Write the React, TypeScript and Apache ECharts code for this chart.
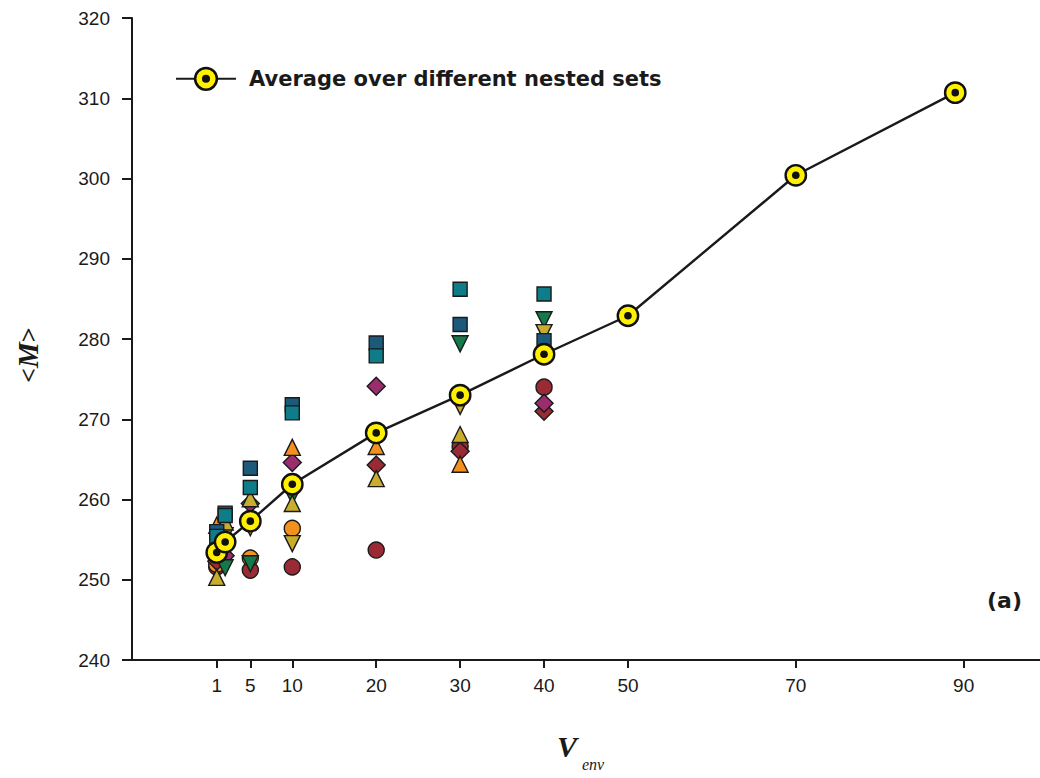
import React, { useEffect, useRef } from "react";
import * as echarts from "echarts";

// ---- Data ----
const xTicks = [1, 5, 10, 20, 30, 40, 50, 70, 90];
const avgX = [1, 2, 5, 10, 20, 30, 40, 50, 70, 89];
const avgY = [253.4, 254.7, 257.3, 261.9, 268.3, 273.0, 278.1, 282.9, 300.4, 310.7];
const avgName = "Average over different nested sets";

const sqTealX = [1, 2, 5, 10, 20, 30, 40];
const sqTealY = [255.4, 258.0, 261.5, 270.8, 277.9, 286.2, 285.6];
const sqBlueX = [1, 2, 5, 10, 20, 30, 40];
const sqBlueY = [256.0, 258.3, 263.9, 271.8, 279.5, 281.8, 279.8];
const triUpOrangeX = [1, 10, 20, 30, 40];
const triUpOrangeY = [256.8, 266.5, 266.6, 264.4, 279.3];
const triUpOliveX = [1, 2, 5, 10, 20, 30];
const triUpOliveY = [250.3, 257.2, 260.1, 259.5, 262.6, 268.1];
const triDownOliveX = [2, 5, 10, 30, 40];
const triDownOliveY = [255.5, 256.5, 254.5, 271.6, 280.8];
const triDownGreenX = [2, 5, 10, 30, 40];
const triDownGreenY = [251.5, 252.0, 260.4, 279.4, 282.4];
const diaMagentaX = [2, 5, 10, 20, 40];
const diaMagentaY = [253.0, 259.5, 264.6, 274.1, 272.0];
const diaRedX = [1, 20, 30, 40];
const diaRedY = [252.3, 264.3, 266.0, 271.0];
const circOrangeX = [1, 5, 10];
const circOrangeY = [251.9, 252.7, 256.4];
const circRedX = [1, 5, 10, 20, 30, 40];
const circRedY = [251.6, 251.2, 251.6, 253.7, 266.6, 274.0];

const zip = (xs: number[], ys: number[]) => xs.map((x, i) => [x, ys[i]]);

const avgSvg =
  "<svg xmlns='http://www.w3.org/2000/svg' width='24' height='24' viewBox='0 0 24 24'>" +
  "<circle cx='12' cy='12' r='10.2' fill='#fff000' stroke='#111' stroke-width='2.4'/>" +
  "<circle cx='12' cy='12' r='3.8' fill='#111'/></svg>";
const avgSymbol = "image://data:image/svg+xml;charset=utf-8," + encodeURIComponent(avgSvg);

const FONT = "'Liberation Sans', Arial, Helvetica, sans-serif";
const WIDE = "'DejaVu Sans', 'Liberation Sans', sans-serif";
const SERIF = "'Liberation Serif', 'DejaVu Serif', 'Times New Roman', serif";

function scatter(name: string, xs: number[], ys: number[], symbol: string, size: number, color: string, rotate = 0) {
  return {
    name,
    type: "scatter",
    data: zip(xs, ys),
    symbol,
    symbolSize: size,
    symbolRotate: rotate,
    itemStyle: { color, borderColor: "#1a1a1a", borderWidth: 1.4, opacity: 1 },
    z: 2,
  };
}

export default function App() {
  const ref = useRef<HTMLDivElement>(null);
  useEffect(() => {
    if (!ref.current) return;
    const chart = echarts.init(ref.current, undefined, { renderer: "svg" });
    const option: any = {
      animation: false,
      backgroundColor: "#ffffff",
      grid: { left: 132, right: 0, top: 18, bottom: 118, containLabel: false },
      legend: {
        data: [avgName],
        left: 170,
        top: 61,
        itemWidth: 60,
        itemHeight: 32,
        textStyle: { fontFamily: WIDE, fontSize: 21, fontWeight: "bold", color: "#1a1a1a", padding: [0, 0, 0, 8] },
      },
      xAxis: {
        type: "value",
        min: -9.1,
        max: 99.1,
        axisLine: { show: true, onZero: false, lineStyle: { color: "#1a1a1a", width: 2 } },
        axisTick: { show: true, customValues: xTicks, length: 8, lineStyle: { color: "#1a1a1a", width: 2 } },
        axisLabel: { customValues: xTicks, margin: 16, fontFamily: FONT, fontSize: 19, color: "#1a1a1a" },
        splitLine: { show: false },
      },
      yAxis: {
        type: "value",
        min: 240,
        max: 320,
        interval: 10,
        axisLine: { show: true, onZero: false, lineStyle: { color: "#1a1a1a", width: 2 } },
        axisTick: { show: true, length: 10, lineStyle: { color: "#1a1a1a", width: 2 } },
        axisLabel: { margin: 22, fontFamily: FONT, fontSize: 19, color: "#1a1a1a" },
        splitLine: { show: false },
      },
      graphic: [
        {
          type: "text",
          x: 28,
          y: 355,
          rotation: Math.PI / 2,
          style: {
            text: "{a|<}{b|M}{a|>}",
            align: "center",
            verticalAlign: "middle",
            rich: {
              a: { fontFamily: SERIF, fontSize: 26, fontWeight: "bold", fill: "#1a1a1a" },
              b: { fontFamily: SERIF, fontSize: 29, fontWeight: "bold", fontStyle: "italic", fill: "#1a1a1a" },
            },
          },
        },
        {
          type: "text",
          x: 567,
          y: 746,
          style: {
            text: "V",
            align: "center",
            verticalAlign: "middle",
            fontFamily: SERIF,
            fontSize: 30,
            fontWeight: "bold",
            fontStyle: "italic",
            fill: "#1a1a1a",
          },
        },
        {
          type: "text",
          x: 582,
          y: 764,
          style: {
            text: "env",
            align: "left",
            verticalAlign: "middle",
            fontFamily: SERIF,
            fontSize: 16,
            fontStyle: "italic",
            fill: "#1a1a1a",
          },
        },
        {
          type: "text",
          x: 1022,
          y: 600,
          style: {
            text: "(a)",
            align: "right",
            verticalAlign: "middle",
            fontFamily: WIDE,
            fontSize: 22,
            fontWeight: "bold",
            fill: "#1a1a1a",
          },
        },
      ],
      series: [
        scatter("Set A", circRedX, circRedY, "circle", 16, "#9a2a33"),
        scatter("Set B", circOrangeX, circOrangeY, "circle", 16, "#f2911e"),
        scatter("Set C", diaRedX, diaRedY, "diamond", 18, "#9a2a33"),
        scatter("Set D", diaMagentaX, diaMagentaY, "diamond", 18, "#9b2d6e"),
        scatter("Set E", triDownGreenX, triDownGreenY, "triangle", 16, "#137a4b", 180),
        scatter("Set F", triDownOliveX, triDownOliveY, "triangle", 16, "#c9ae2d", 180),
        scatter("Set G", triUpOliveX, triUpOliveY, "triangle", 16, "#c9ae2d"),
        scatter("Set H", triUpOrangeX, triUpOrangeY, "triangle", 16, "#f2911e"),
        scatter("Set I", sqBlueX, sqBlueY, "rect", 14, "#1c5a7c"),
        scatter("Set J", sqTealX, sqTealY, "rect", 14, "#0f7d89"),
        {
          name: avgName,
          type: "line",
          data: zip(avgX, avgY),
          symbol: avgSymbol,
          symbolSize: 24,
          showAllSymbol: true,
          lineStyle: { color: "#1a1a1a", width: 2.4 },
          itemStyle: { color: "#1a1a1a" },
          z: 5,
        },
      ],
    };
    chart.setOption(option);
    return () => chart.dispose();
  }, []);
  return <div ref={ref} style={{ position: "fixed", left: 0, top: 0, width: 1040, height: 778 }} />;
}
